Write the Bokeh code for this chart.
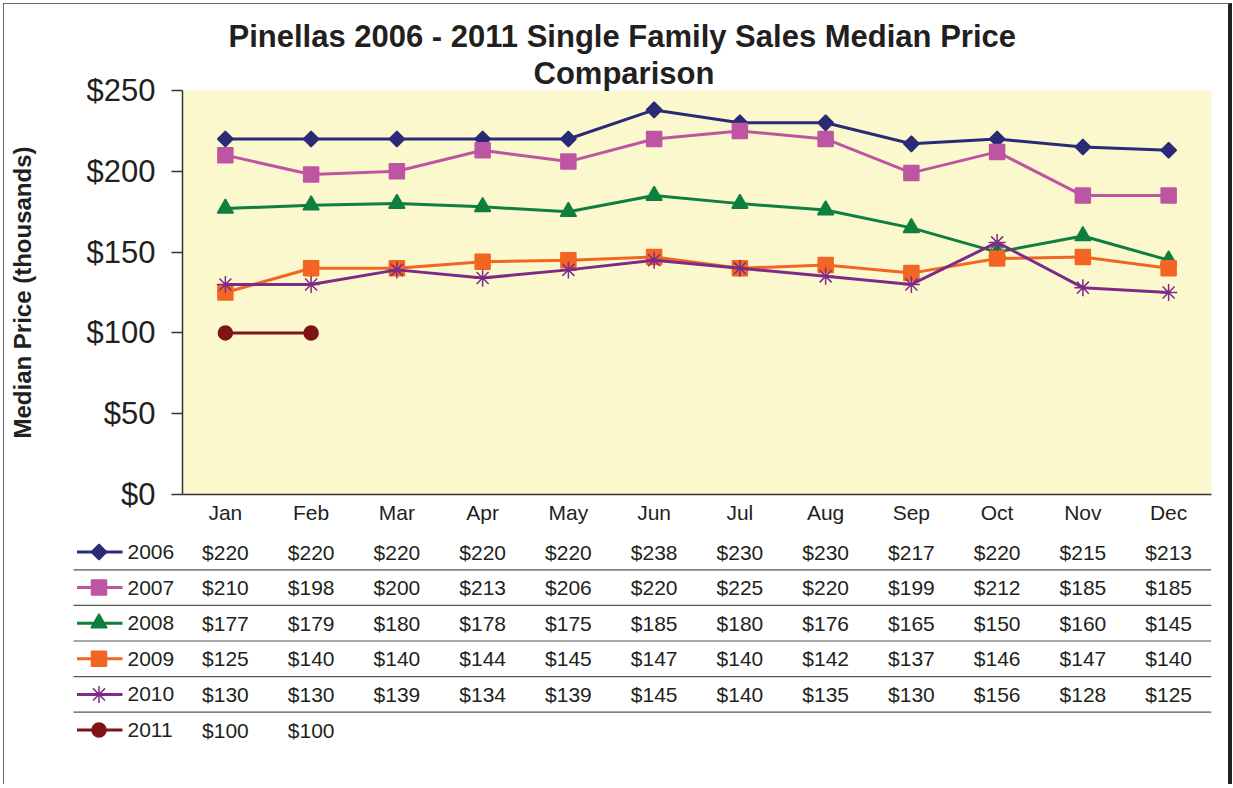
import math
from bokeh.plotting import figure
from bokeh.layouts import column
from bokeh.models import Range1d, FixedTicker, NumeralTickFormatter, FactorRange, ColumnDataSource, Title
from bokeh.embed import file_html
from bokeh.resources import INLINE
from bokeh.core.properties import value

# ---------------- data ----------------
months = ["Jan", "Feb", "Mar", "Apr", "May", "Jun", "Jul", "Aug", "Sep", "Oct", "Nov", "Dec"]
years = ["2006", "2007", "2008", "2009", "2010", "2011"]
v2006 = [220, 220, 220, 220, 220, 238, 230, 230, 217, 220, 215, 213]
v2007 = [210, 198, 200, 213, 206, 220, 225, 220, 199, 212, 185, 185]
v2008 = [177, 179, 180, 178, 175, 185, 180, 176, 165, 150, 160, 145]
v2009 = [125, 140, 140, 144, 145, 147, 140, 142, 137, 146, 147, 140]
v2010 = [130, 130, 139, 134, 139, 145, 140, 135, 130, 156, 128, 125]
v2011 = [100, 100]
y_ticks = [0, 50, 100, 150, 200, 250]
title_line1 = "Pinellas 2006 - 2011 Single Family Sales Median Price"
title_line2 = "Comparison"

series = [v2006, v2007, v2008, v2009, v2010, v2011]
colors = ["#2A2A76", "#BE55A3", "#0E7F3E", "#F26522", "#7E2B87", "#7E1416"]
markers = ["square", "square", "triangle", "square", "asterisk", "circle"]
msizes = [11, 15, 16, 15, 17, 14]
mangles = [math.pi / 4, 0, 0, 0, 0, 0]

FONT = value("Liberation Sans")
TXT = "#231F20"
AX = "#333333"

W = 1224
# ---------------- main chart ----------------
p = figure(width=W, height=526, x_range=FactorRange(factors=months), y_range=Range1d(0, 250),
           output_backend="svg", toolbar_location=None,
           min_border_left=178, min_border_right=17, min_border_top=86, min_border_bottom=36)
p.background_fill_color = "#FBF8CD"
p.border_fill_color = "white"
p.outline_line_color = None
p.xgrid.visible = False
p.ygrid.visible = False
p.title.visible = False

for txt, off in [(title_line2, 351), (title_line1, 46)]:
    p.add_layout(Title(text=txt, align="left", offset=off, standoff=0,
                       text_font="Liberation Sans", text_font_size="31px",
                       text_font_style="bold", text_color=TXT), "above")

ya = p.yaxis[0]
ya.ticker = FixedTicker(ticks=y_ticks)
ya.formatter = NumeralTickFormatter(format="$0")
ya.major_label_text_font = "Liberation Sans"
ya.major_label_text_font_size = "31px"
ya.major_label_text_color = TXT
ya.major_tick_out = 11
ya.major_tick_in = 0
ya.minor_tick_out = 0
ya.minor_tick_in = 0
ya.major_tick_line_color = AX
ya.major_tick_line_width = 1.5
ya.major_label_standoff = 16
ya.axis_line_color = AX
ya.axis_line_width = 1.5
ya.axis_label = "Median Price (thousands)"
ya.axis_label_text_font = "Liberation Sans"
ya.axis_label_text_font_size = "24px"
ya.axis_label_text_font_style = "bold"
ya.axis_label_text_color = TXT
ya.axis_label_standoff = 48

xa = p.xaxis[0]
xa.major_label_text_font = "Liberation Sans"
xa.major_label_text_font_size = "21px"
xa.major_label_text_color = TXT
xa.major_tick_out = 0
xa.major_tick_in = 0
xa.major_label_standoff = 6
xa.axis_line_color = AX
xa.axis_line_width = 1.5

for vals, c, m, s, a in zip(series, colors, markers, msizes, mangles):
    xs = months[:len(vals)]
    p.line(xs, vals, line_color=c, line_width=3)
    p.scatter(xs, vals, marker=m, size=s, angle=a, fill_color=c, line_color=c, line_width=1.5)

# ---------------- data table ----------------
PX = 1029 / 12.0           # pixels per month slot (same as main chart)
T_LEFT = 66                # table frame left border (px)
T_RIGHT = 17
T_W = W - T_LEFT - T_RIGHT
X0 = 12 - T_W / PX
ROW = 35.6
H2 = 254
Y1 = 21.5 / ROW
Y0 = Y1 - H2 / ROW

def xp(px):
    return X0 + px / PX

t = figure(width=W, height=H2, x_range=Range1d(X0, 12), y_range=Range1d(Y0, Y1),
           output_backend="svg", toolbar_location=None,
           x_axis_location=None, y_axis_location=None,
           min_border_left=T_LEFT, min_border_right=T_RIGHT, min_border_top=0, min_border_bottom=0)
t.outline_line_color = None
t.xgrid.visible = False
t.ygrid.visible = False
t.background_fill_color = "white"

# separators
sep_y = [-(r + 0.5) for r in range(len(years) - 1)]
t.segment(x0=[xp(3)] * len(sep_y), x1=[12] * len(sep_y), y0=sep_y, y1=sep_y,
          line_color="#555555", line_width=1.2)

tx, ty, tt = [], [], []
for r, vals in enumerate(series):
    for j, v in enumerate(vals):
        tx.append(j + 0.5)
        ty.append(-r)
        tt.append("$%d" % v)
t.text(x="x", y="y", text="t", source=ColumnDataSource(dict(x=tx, y=ty, t=tt)),
       text_align="center", text_baseline="middle", text_font=FONT,
       text_font_size="21px", text_color=TXT)

yr_y = [-r for r in range(len(years))]
t.text(x=[xp(57)] * len(years), y=yr_y, text=years, text_align="left", text_baseline="middle",
       text_font=FONT, text_font_size="21px", text_color=TXT)

for r, (c, m, s, a) in enumerate(zip(colors, markers, msizes, mangles)):
    t.segment(x0=[xp(6.5)], x1=[xp(52)], y0=[-r], y1=[-r], line_color=c, line_width=3)
    t.scatter([xp(28.5)], [-r], marker=m, size=s, angle=a, fill_color=c, line_color=c, line_width=1.5)

layout = column(column(p), column(t), styles={"margin-left": "3px", "margin-top": "3px",
                              "border-left": "1px solid #666", "border-top": "1px solid #666",
                              "border-right": "4px solid #231F20"})

open("out.html", "w").write(file_html(layout, INLINE))
